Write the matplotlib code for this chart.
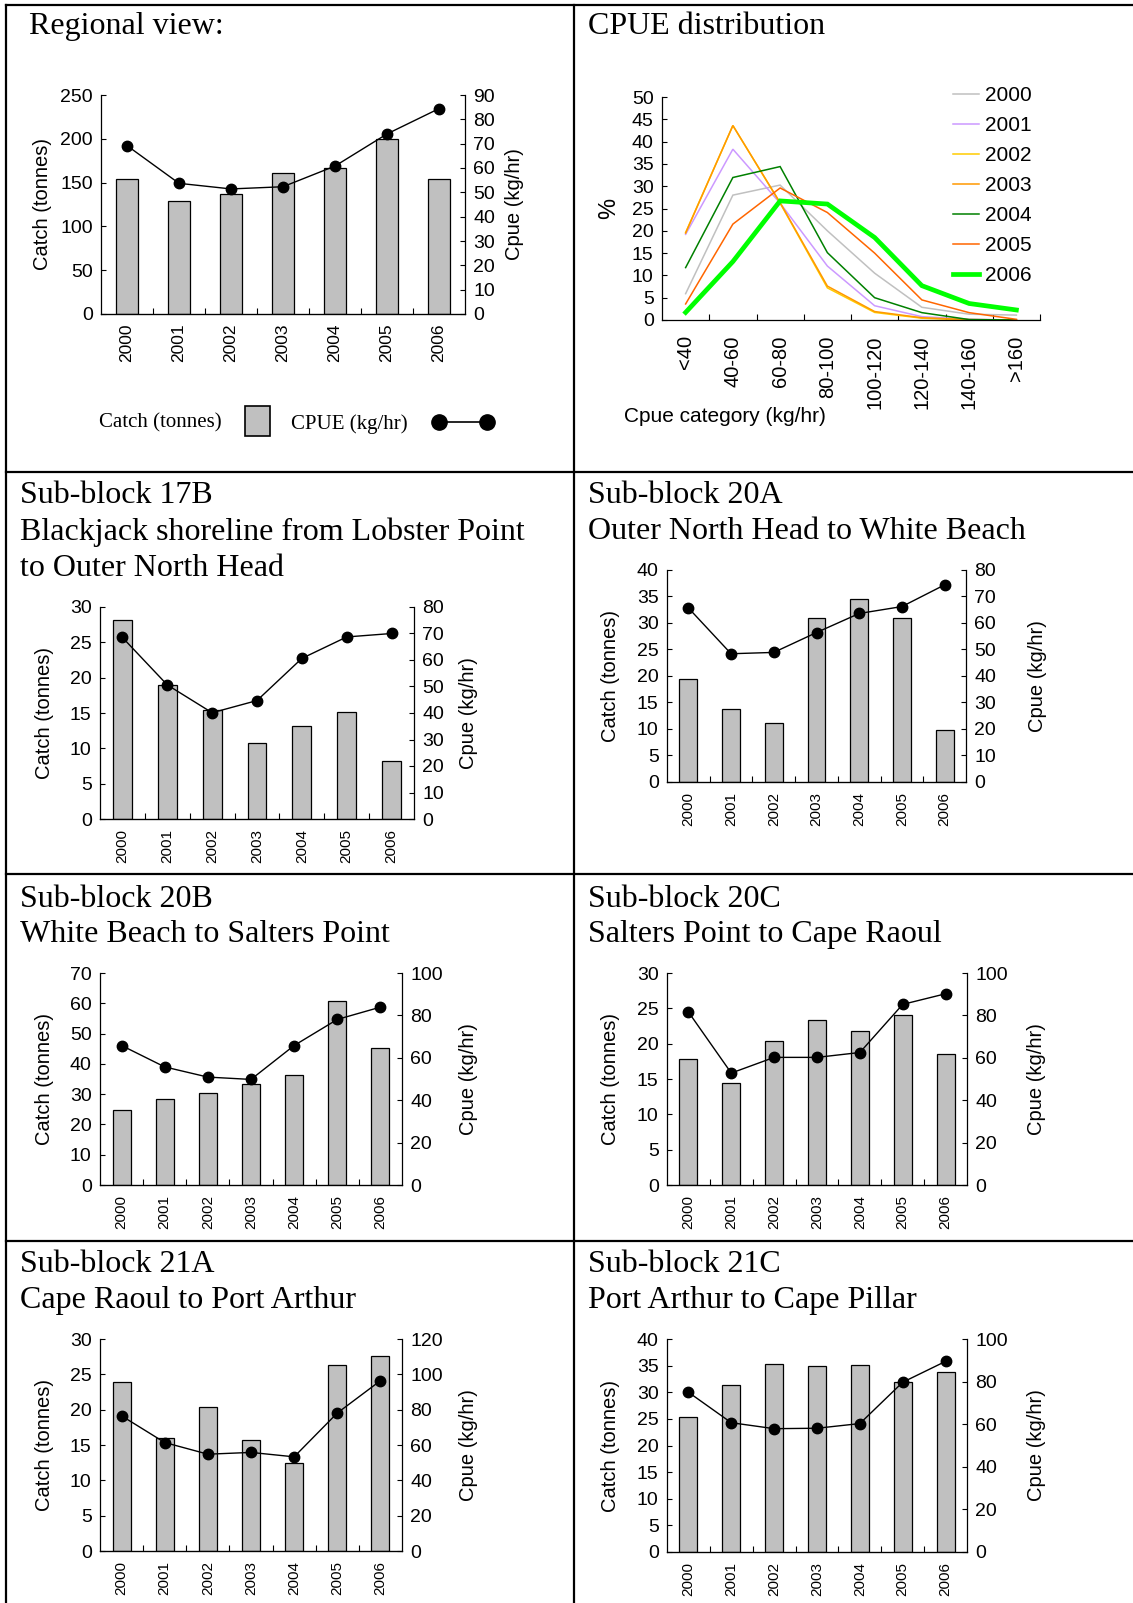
import numpy as np
import matplotlib
matplotlib.use('Agg')
import matplotlib.pyplot as plt
from matplotlib.lines import Line2D
from matplotlib.patches import Patch

plt.rcParams['font.family'] = ['Liberation Sans', 'DejaVu Sans']

# ---- data ----
years = ['2000', '2001', '2002', '2003', '2004', '2005', '2006']

regional_catch = [154, 128.6, 136.6, 161.3, 167, 200.2, 154]
regional_cpue = [69.2, 53.7, 51.4, 52.3, 60.8, 74.0, 84.4]

b17b_catch = [28.1, 18.9, 15.4, 10.8, 13.2, 15.2, 8.2]
b17b_cpue = [68.5, 50.6, 40.1, 44.7, 60.6, 68.7, 70.0]

b20a_catch = [19.4, 13.75, 11.05, 30.95, 34.6, 31.0, 9.9]
b20a_cpue = [65.7, 48.4, 48.9, 56.4, 63.6, 66.2, 74.4]

b20b_catch = [24.9, 28.3, 30.4, 33.5, 36.2, 60.7, 45.1]
b20b_cpue = [65.8, 55.7, 50.9, 49.8, 65.8, 78.1, 83.9]

b20c_catch = [17.8, 14.4, 20.4, 23.4, 21.8, 24.0, 18.6]
b20c_cpue = [81.6, 52.8, 60.2, 60.2, 62.5, 85.2, 90.2]

b21a_catch = [23.85, 15.97, 20.36, 15.73, 12.5, 26.26, 27.6]
b21a_cpue = [76.5, 61.4, 54.8, 55.8, 53.3, 78.1, 96.4]

b21c_catch = [25.3, 31.3, 35.3, 35.0, 35.1, 31.95, 33.8]
b21c_cpue = [75.0, 60.7, 57.9, 58.1, 60.3, 79.7, 89.5]

cpue_cats = ['<40', '40-60', '60-80', '80-100', '100-120', '120-140', '140-160', '>160']
dist_2000 = [5.9, 28.0, 30.25, 20.0, 10.5, 2.85, 1.3, 1.1]
dist_2001 = [19.2, 38.3, 26.2, 12.1, 3.2, 0.75, 0.15, 0.0]
dist_2002 = [19.6, 43.6, 26.2, 7.2, 1.7, 0.4, 0.0, 0.0]
dist_2003 = [19.5, 43.6, 26.3, 7.6, 1.9, 0.5, 0.1, 0.0]
dist_2004 = [11.75, 31.95, 34.4, 15.1, 5.0, 1.65, 0.1, 0.0]
dist_2005 = [3.6, 21.5, 29.6, 24.1, 15.0, 4.5, 1.65, 0.15]
dist_2006 = [1.7, 13.1, 26.7, 26.0, 18.5, 7.7, 3.7, 2.25]

W, H = 1133, 1603
fig = plt.figure(figsize=(W / 100, H / 100), dpi=100)


def box(l, t, r, b):
    return [l / W, 1 - b / H, (r - l) / W, (b - t) / H]


def hline(y, x0, x1):
    fig.add_artist(Line2D([x0 / W, x1 / W], [1 - y / H, 1 - y / H], color='black', lw=1.6))


def vline(x, y0, y1):
    fig.add_artist(Line2D([x / W, x / W], [1 - y0 / H, 1 - y1 / H], color='black', lw=1.6))


# table borders
hline(5, 6, W)
hline(472, 6, W)
hline(874, 6, W)
hline(1241, 6, W)
vline(6, 5, H)
vline(574, 5, H)


def title(x, y, text):
    fig.text(x / W, 1 - y / H, text, family='Liberation Serif', fontsize=23,
             ha='left', va='baseline')


def bar_panel(px, catch, cpue, cmax, cstep, pmax, pstep, lab_l, lab_r, year_fs):
    ax = fig.add_axes(box(*px))
    x = np.arange(len(years))
    ax.bar(x, catch, width=0.42, color='#c0c0c0', edgecolor='black', linewidth=0.9, zorder=2)
    ax.set_xlim(-0.5, len(years) - 0.5)
    ax.set_ylim(0, cmax)
    ax.set_yticks(np.arange(0, cmax + 0.1, cstep))
    ax.set_xticks(np.arange(0.5, len(years) - 0.5, 1))
    ax.set_xticklabels([])
    ax.set_xticks(x, minor=True)
    ax.set_xticklabels(years, minor=True, rotation=90, fontsize=year_fs, va='top')
    ax.tick_params(axis='x', which='minor', length=0, pad=7)
    ax.tick_params(axis='x', which='major', direction='in', length=4, width=0.8)
    ax.tick_params(axis='y', direction='in', length=3.5, width=0.8, labelsize=14, pad=6)
    ax.spines['top'].set_visible(False)
    ax.spines['right'].set_visible(False)
    for s in ax.spines.values():
        s.set_linewidth(0.9)
    ax.set_ylabel('Catch (tonnes)', fontsize=14.5, va='center')
    ax.yaxis.set_label_coords((lab_l - px[0]) / (px[2] - px[0]), 0.5)

    ax2 = ax.twinx()
    ax2.plot(x, cpue, color='black', lw=1, marker='o', ms=7.5, zorder=3)
    ax2.set_ylim(0, pmax)
    ax2.set_yticks(np.arange(0, pmax + 0.1, pstep))
    ax2.tick_params(axis='y', direction='in', length=3.5, width=0.8, labelsize=14, pad=6)
    ax2.spines['top'].set_visible(False)
    ax2.spines['left'].set_visible(False)
    ax2.spines['right'].set_linewidth(0.9)
    ax2.set_ylabel('Cpue (kg/hr)', fontsize=14.5, rotation=90, va='center')
    ax2.yaxis.set_label_coords((lab_r - px[0]) / (px[2] - px[0]), 0.5)
    return ax, ax2


# ---- Regional view ----
title(29, 34, 'Regional view:')
bar_panel((101, 95, 465, 314), regional_catch, regional_cpue, 250, 50, 90, 10, 43, 514, 12.5)

leg_font = {'family': 'Liberation Serif', 'size': 15}
h_bar = Patch(facecolor='#c0c0c0', edgecolor='black', linewidth=1.2)
h_line = Line2D([], [], color='black', lw=1.2, marker='o', ms=11)
fig.legend([h_bar], ['Catch (tonnes)'], loc='center left', bbox_to_anchor=(99 / W, 1 - 421 / H),
           frameon=False, prop=leg_font, markerfirst=False, borderpad=0, borderaxespad=0,
           handlelength=1.18, handleheight=1.78, handletextpad=1.13)
fig.legend([h_line], ['CPUE (kg/hr)'], loc='center left', bbox_to_anchor=(291 / W, 1 - 424 / H),
           frameon=False, prop=leg_font, markerfirst=False, borderpad=0, borderaxespad=0,
           numpoints=2, handlelength=2.9, handletextpad=1.2)

# ---- CPUE distribution ----
title(588, 34, 'CPUE distribution')
px = (662, 97, 1040, 320)
ax = fig.add_axes(box(*px))
xc = np.arange(len(cpue_cats))
series = [('2000', dist_2000, '#c0c0c0', 1.1), ('2001', dist_2001, '#cc99ff', 1.1),
          ('2002', dist_2002, '#ffcc00', 1.1), ('2003', dist_2003, '#ff9900', 1.1),
          ('2004', dist_2004, '#008000', 1.1), ('2005', dist_2005, '#ff6600', 1.1),
          ('2006', dist_2006, '#00ff00', 3.4)]
handles = []
for name, vals, col, lw in series:
    ln, = ax.plot(xc, vals, color=col, lw=lw, label=name, solid_joinstyle='miter')
    handles.append(ln)
ax.set_xlim(-0.5, len(cpue_cats) - 0.5)
ax.set_ylim(0, 50)
ax.set_yticks(np.arange(0, 51, 5))
ax.set_xticks(np.arange(0.5, len(cpue_cats), 1))
ax.set_xticklabels([])
ax.set_xticks(xc, minor=True)
ax.set_xticklabels(cpue_cats, minor=True, rotation=90, fontsize=14.5, va='top')
ax.tick_params(axis='x', which='minor', length=0, pad=11)
ax.tick_params(axis='x', which='major', direction='in', length=4.5, width=0.8)
ax.tick_params(axis='y', direction='in', length=3.5, width=0.8, labelsize=14, pad=6)
ax.spines['top'].set_visible(False)
ax.spines['right'].set_visible(False)
for s in ax.spines.values():
    s.set_linewidth(0.9)
ax.set_ylabel('%', fontsize=17, va='center')
ax.yaxis.set_label_coords((609 - px[0]) / (px[2] - px[0]), 0.5)
fig.text(624 / W, 1 - 416 / H, 'Cpue category (kg/hr)', fontsize=15, ha='left', va='center')
fig.legend(handles=handles, loc='upper left', bbox_to_anchor=(953 / W, 1 - 86 / H),
           frameon=False, fontsize=15, borderpad=0, borderaxespad=0,
           handlelength=1.27, handletextpad=0.29, labelspacing=0.53)

# ---- sub-blocks ----
title(20, 503, 'Sub-block 17B')
title(20, 540, 'Blackjack shoreline from Lobster Point')
title(20, 576, 'to Outer North Head')
bar_panel((100, 607, 414, 819), b17b_catch, b17b_cpue, 30, 5, 80, 10, 44, 469, 11)

title(588, 503, 'Sub-block 20A')
title(588, 539, 'Outer North Head to White Beach')
bar_panel((667, 570, 966, 782), b20a_catch, b20a_cpue, 40, 5, 80, 10, 611, 1037, 11)

title(20, 907, 'Sub-block 20B')
title(20, 942, 'White Beach to Salters Point')
bar_panel((100, 973, 402, 1185), b20b_catch, b20b_cpue, 70, 10, 100, 20, 44, 469, 11)

title(588, 907, 'Sub-block 20C')
title(588, 942, 'Salters Point to Cape Raoul')
bar_panel((667, 973, 967, 1185), b20c_catch, b20c_cpue, 30, 5, 100, 20, 611, 1037, 11)

title(20, 1272, 'Sub-block 21A')
title(20, 1308, 'Cape Raoul to Port Arthur')
bar_panel((100, 1339, 402, 1551), b21a_catch, b21a_cpue, 30, 5, 120, 20, 44, 469, 11)

title(588, 1272, 'Sub-block 21C')
title(588, 1308, 'Port Arthur to Cape Pillar')
bar_panel((667, 1339, 967, 1552), b21c_catch, b21c_cpue, 40, 5, 100, 20, 611, 1037, 11)

fig.savefig('out.png', dpi=100)
